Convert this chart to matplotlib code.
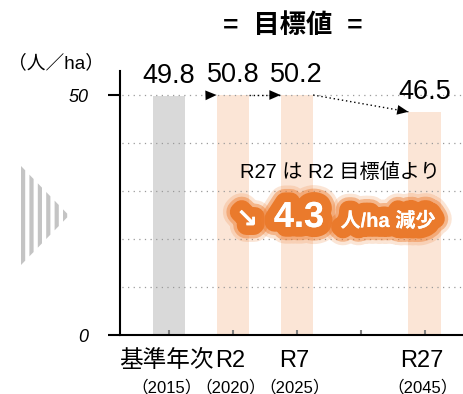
import numpy as np
import matplotlib
matplotlib.use("Agg")
import matplotlib.pyplot as plt
import matplotlib.patheffects as pe
from matplotlib.patches import Polygon

plt.rcParams['font.family'] = ['Liberation Sans', 'Noto Sans CJK JP', 'DejaVu Sans']

# data
categories = ['基準年次', 'R2', 'R7', '', 'R27']
years = ['（2015）', '（2020）', '（2025）', '', '（2045）']
values = [49.8, 50.8, 50.2, None, 46.5]
bar_colors = ['#D9D9D9', '#FBE5D6', '#FBE5D6', None, '#FBE5D6']
axis_max = 50          # bars are cut at the top of the scale
grid_levels = [10, 20, 30, 40, 50]

W, H = 463, 394
fig = plt.figure(figsize=(W / 100, H / 100), dpi=100)
ax = fig.add_axes([120 / W, 59 / H, 343 / W, 264 / H])

x = np.arange(len(categories))
idx = [i for i, v in enumerate(values) if v is not None]
vals = np.array([values[i] for i in idx])
shown = np.minimum(vals, axis_max)
width = 0.51

ax.bar(x[idx], shown, width=width, color=[bar_colors[i] for i in idx], zorder=1)

# dotted grid
ax.hlines(grid_levels, -1, 6, colors='#9a9a9a', linestyles=(0, (1, 3.5)), lw=0.9, zorder=2)

# value labels
for xi, v, s in zip(x[idx], vals, shown):
    ax.annotate(f"{v}", xy=(xi, s), xytext=(0, 9.4), textcoords='offset points',
                ha='center', va='baseline', fontsize=19.5, zorder=5)

# arrows between successive bars
for k in range(len(idx) - 1):
    x0, x1 = x[idx[k]] + width / 2, x[idx[k + 1]] - width / 2
    y0, y1 = shown[k], shown[k + 1]
    if k > 0:
        ax.plot([x0, x1], [y0, y1], color='black', lw=1, ls=(0, (1, 2)), zorder=3)
    # direction in pixel space
    dpx = np.array([(x1 - x0) * 64.0, (y1 - y0) * 4.8])
    dpx = dpx / np.hypot(*dpx) * 12
    ax.annotate('', xy=(x1, y1), xytext=(x1 - dpx[0] / 64.0, y1 - dpx[1] / 4.8),
                arrowprops=dict(arrowstyle='-|>,head_length=0.8,head_width=0.35', color='black',
                                lw=0.01, shrinkA=0, shrinkB=0), zorder=4)

ax.set_xlim(-0.766, 4.6)
ax.set_ylim(0, 55)
for s in ['top', 'right']:
    ax.spines[s].set_visible(False)
ax.spines['left'].set_linewidth(1.5)
ax.spines['bottom'].set_linewidth(1.5)

ax.set_yticks([0, 50])
ax.set_yticklabels(['0', '50'], fontsize=13, fontstyle='italic')
ax.tick_params(axis='y', direction='out', length=8.6, width=1.5, pad=14)

ax.set_xticks(x)
ax.set_xticklabels([])
ax.tick_params(axis='x', direction='in', length=3.5, width=1.5, color='#808080')

tr = ax.get_xaxis_transform()
for xi, c, yr in zip(x, categories, years):
    ax.text(xi - 0.04, -32 / 264, c, transform=tr, ha='center', va='baseline', fontsize=17)
    ax.text(xi - 0.04, -57 / 264, yr, transform=tr, ha='center', va='baseline', fontsize=12)

# titles and notes
fig.text(293 / W, 1 - 26 / H, '=  目標値  =', ha='center', va='center', fontsize=19, fontweight='bold')
fig.text(8 / W, 1 - 63 / H, '（人／ha）', ha='left', va='center', fontsize=13.5)
fig.text(340 / W, 1 - 172 / H, 'R27 は R2 目標値より', ha='center', va='center', fontsize=14.5)

glow = [pe.withStroke(linewidth=24, foreground='#ED7D31', alpha=0.2),
        pe.withStroke(linewidth=19, foreground='#ED7D31', alpha=0.45),
        pe.withStroke(linewidth=14, foreground='#EA7A2C'),
        pe.Normal()]
base = 1 - 227 / H
fig.text(247 / W, base, '↘', ha='center', va='baseline', fontsize=19, fontweight='bold',
         color='white', family='DejaVu Sans', path_effects=glow)
fig.text(299 / W, base, '4.3', ha='center', va='baseline', fontsize=26, fontweight='bold',
         color='white', path_effects=glow)
fig.text(388 / W, base, '人/ha 減少', ha='center', va='baseline', fontsize=14.5, fontweight='bold',
         color='white', path_effects=glow)

# decorative striped triangle on the left
tl, tt, tb, ta = 21.0, 166.0, 265.0, 69.0
mid = (tt + tb) / 2
for k in range(6):
    xa = tl + 8.4 * k
    xb = xa + 4.2
    ha_ = (tb - tt) / 2 * (1 - (xa - tl) / (ta - tl))
    hb_ = (tb - tt) / 2 * (1 - (xb - tl) / (ta - tl))
    pts = [(xa, mid - ha_), (xb, mid - hb_), (xb, mid + hb_), (xa, mid + ha_)]
    fig.add_artist(Polygon([(px / W, 1 - py / H) for px, py in pts], closed=True,
                           facecolor='#C4C4C4', edgecolor='none', transform=fig.transFigure))

fig.savefig('out.png', dpi=100)
